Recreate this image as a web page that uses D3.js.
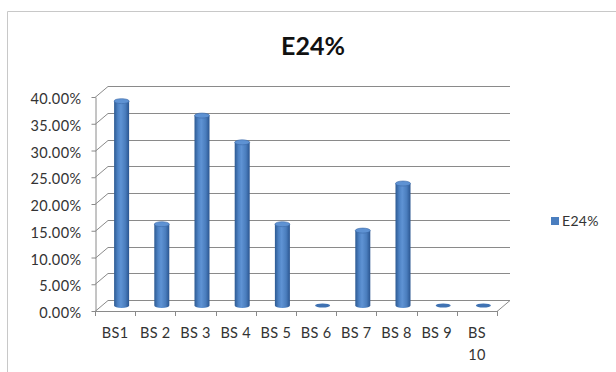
<!DOCTYPE html>
<html><head><meta charset="utf-8">
<script src="https://cdn.jsdelivr.net/npm/d3@7"></script>
<style>
html,body{margin:0;padding:0;background:#fff;}
svg{display:block;}
text{font-family:Lato,"Open Sans",sans-serif;}
</style></head>
<body>
<svg id="c" width="616" height="372"></svg>
<script>
const categories = ["BS1","BS 2","BS 3","BS 4","BS 5","BS 6","BS 7","BS 8","BS 9","BS 10"];
const values = [0.382,0.152,0.355,0.305,0.152,0,0.140,0.228,0,0];
const yTicks = [0,0.05,0.10,0.15,0.20,0.25,0.30,0.35,0.40];
const seriesName = "E24%";
const chartTitle = "E24%";

(function(){
const svg = d3.select("#c");
const pL = 95, pR = 497, pT = 97, pB = 311;
const dx = 13, dy = -11;

// outer chart border
svg.append("path").attr("d","M7.5,380 V11.5 H620").attr("fill","none").attr("stroke","#c8c8c8").attr("stroke-width",1);

const x = d3.scaleBand().domain(categories).range([pL,pR]).paddingInner(0).paddingOuter(0);
const y = d3.scaleLinear().domain([0,0.4]).range([pB,pT]);

const defs = svg.append("defs");
const g1 = defs.append("linearGradient").attr("id","cyl").attr("x1","0").attr("x2","1").attr("y1","0").attr("y2","0");
[[0,"#2d5a92"],[0.25,"#4d82c4"],[0.45,"#5f93d4"],[0.75,"#4a7dbd"],[1,"#2a5590"]].forEach(([o,c])=>g1.append("stop").attr("offset",o).attr("stop-color",c));

const grid = svg.append("g").attr("stroke","#8a8a8a").attr("stroke-width",1).attr("fill","none");
yTicks.forEach(t=>{
  const yf = Math.round(y(t))+0.5;
  grid.append("line").attr("x1",pL+dx).attr("x2",pR+dx).attr("y1",yf+dy).attr("y2",yf+dy);
  grid.append("line").attr("x1",pL).attr("x2",pL+dx).attr("y1",yf).attr("y2",yf+dy);
});
// floor edges
grid.append("line").attr("x1",pL).attr("x2",pR).attr("y1",pB+0.5).attr("y2",pB+0.5);
grid.append("line").attr("x1",pR).attr("x2",pR+dx).attr("y1",pB+0.5).attr("y2",pB+0.5+dy);

// y axis
const yAxis = d3.axisLeft(y).tickValues(yTicks).tickFormat(d3.format(".2%")).tickSize(4).tickSizeOuter(0).tickPadding(10);
const ya = svg.append("g").attr("transform",`translate(${pL+0.5},0)`).call(yAxis);
ya.select(".domain").attr("stroke","#8a8a8a");
ya.selectAll(".tick line").attr("stroke","#8a8a8a");
ya.selectAll("text").attr("fill","#333").attr("dy","0.45em")
  .style("font-size","14.5px").style("letter-spacing","0.4px").style("font-family","Lato,sans-serif");

// x axis ticks
const xa = svg.append("g");
d3.range(categories.length+1).forEach(i=>{
  const xp = Math.round(pL + i*x.step())+0.5;
  xa.append("line").attr("x1",xp).attr("x2",xp).attr("y1",pB).attr("y2",pB+5).attr("stroke","#8a8a8a");
});
categories.forEach(c=>{
  const cx = x(c)+x.bandwidth()/2;
  const parts = c==="BS 10" ? ["BS","10"] : [c];
  const t = xa.append("text").attr("x",cx).attr("y",338).attr("text-anchor","middle").attr("fill","#333")
    .style("font-size","14.5px").style("letter-spacing","0.3px");
  parts.forEach((p,i)=>t.append("tspan").attr("x",cx).attr("dy",i?22:0).text(p));
});

// bars (cylinders) at mid depth
const bw = 15, ry = 2.5;
const bars = svg.append("g");
categories.forEach((c,i)=>{
  const cx = x(c)+x.bandwidth()/2 + dx/2;
  const y0 = y(0) + dy/2;
  const y1 = y(values[i]) + dy/2;
  if (values[i] > 0) {
    bars.append("path")
      .attr("d",`M${cx-bw/2},${y1} V${y0} A${bw/2},${ry} 0 0 0 ${cx+bw/2},${y0} V${y1} Z`)
      .attr("fill","url(#cyl)");
    bars.append("ellipse").attr("cx",cx).attr("cy",y1).attr("rx",bw/2).attr("ry",ry)
      .attr("fill","#5e92d3").attr("stroke","#3a68a6").attr("stroke-width",0.6);
  } else {
    bars.append("ellipse").attr("cx",cx).attr("cy",y0).attr("rx",bw/2).attr("ry",2)
      .attr("fill","#3f72b3");
  }
});

// title
svg.append("text").attr("x",313).attr("y",55).attr("text-anchor","middle").attr("fill","#111")
  .style("font-size","25px").style("font-weight","bold").text(chartTitle);

// legend
svg.append("rect").attr("x",551).attr("y",217).attr("width",8).attr("height",8).attr("fill","#4a7ebf");
svg.append("text").attr("x",562).attr("y",226).attr("fill","#333").style("font-size","14px").style("letter-spacing","0.3px").text(seriesName);
})();
</script>
</body></html>
